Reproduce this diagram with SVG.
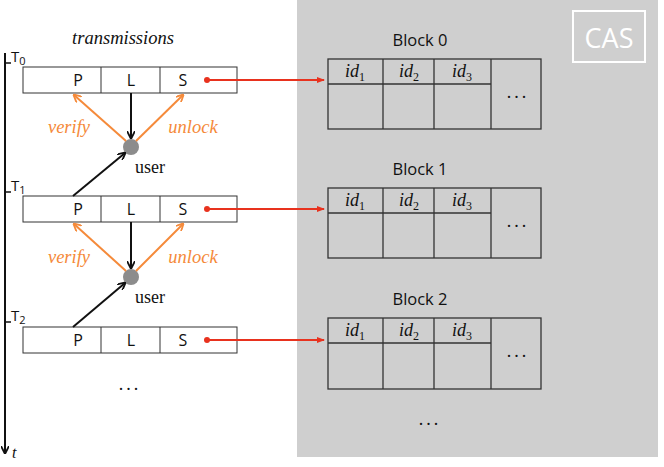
<svg xmlns="http://www.w3.org/2000/svg" width="664" height="467" viewBox="0 0 664 467">
<style>
.cell{fill:#fff;stroke:#333;stroke-width:1}
.bcell{fill:none;stroke:#333;stroke-width:1.3}
.sans{font-family:'Open Sans','Liberation Sans',sans-serif;fill:#111}
.serif{font-family:'Liberation Serif','DejaVu Serif',serif;fill:#111}
.it{font-style:italic}
.or{fill:#F58A3A}
.blk{stroke:#111;stroke-width:2;fill:none}
.orl{stroke:#F58A3A;stroke-width:2;fill:none}
.red{stroke:#E8321E;stroke-width:1.8;fill:none}
.dots{font-family:'Liberation Serif',serif;font-size:18px;fill:#111;letter-spacing:3px}
.bl{font-size:16.5px}
</style>
<defs>
<marker id="ab" markerWidth="8" markerHeight="8" refX="7" refY="4" orient="auto" markerUnits="userSpaceOnUse"><path d="M0,0 L8,4 L0,8" fill="none" stroke="#111" stroke-width="1.8"/></marker>
<marker id="ao" markerWidth="8" markerHeight="8" refX="7" refY="4" orient="auto" markerUnits="userSpaceOnUse"><path d="M0,0 L8,4 L0,8" fill="none" stroke="#F58A3A" stroke-width="1.8"/></marker>
<marker id="ar" markerWidth="8" markerHeight="8" refX="7" refY="4" orient="auto" markerUnits="userSpaceOnUse"><path d="M0,1 L8,4 L0,7 Z" fill="#E8321E"/></marker>
</defs>
<rect x="0" y="0" width="664" height="467" fill="#fff"/>
<g id="cas-panel">
<rect x="297" y="0" width="361" height="457" fill="#cfcfcf"/>
<rect x="573" y="11" width="72" height="51" fill="none" stroke="#fff" stroke-width="2"/>
<text x="609" y="48" text-anchor="middle" font-family="'Open Sans','Liberation Sans',sans-serif" font-size="27" fill="#fff">CAS</text>
</g>
<g id="time-axis">
<line x1="5" y1="53" x2="5" y2="453" stroke="#111" stroke-width="2" marker-end="url(#ab)"/>
<line x1="5" y1="63" x2="11" y2="63" stroke="#111" stroke-width="1.5"/>
<line x1="5" y1="192" x2="11" y2="192" stroke="#111" stroke-width="1.5"/>
<line x1="5" y1="322" x2="11" y2="322" stroke="#111" stroke-width="1.5"/>
<text x="11" y="62" class="sans" font-size="15">T<tspan font-size="11" dy="3">0</tspan></text>
<text x="11" y="191" class="sans" font-size="15">T<tspan font-size="11" dy="3">1</tspan></text>
<text x="11" y="321" class="sans" font-size="15">T<tspan font-size="11" dy="3">2</tspan></text>
<text x="12" y="458" class="serif it" font-size="16">t</text>
</g>
<text x="123" y="44" text-anchor="middle" class="serif it" font-size="18.5">transmissions</text>
<g id="tx0">
<rect x="23" y="67" width="214" height="26" class="cell"/>
<line x1="101" y1="67" x2="101" y2="93" stroke="#333"/>
<line x1="160" y1="67" x2="160" y2="93" stroke="#333"/>
<text x="78" y="86" text-anchor="middle" class="sans" font-size="16">P</text>
<text x="131" y="86" text-anchor="middle" class="sans" font-size="16">L</text>
<text x="183" y="86" text-anchor="middle" class="sans" font-size="16">S</text>
</g>
<g id="tx1">
<rect x="23" y="196" width="214" height="26" class="cell"/>
<line x1="101" y1="196" x2="101" y2="222" stroke="#333"/>
<line x1="160" y1="196" x2="160" y2="222" stroke="#333"/>
<text x="78" y="215" text-anchor="middle" class="sans" font-size="16">P</text>
<text x="131" y="215" text-anchor="middle" class="sans" font-size="16">L</text>
<text x="183" y="215" text-anchor="middle" class="sans" font-size="16">S</text>
</g>
<g id="tx2">
<rect x="23" y="327" width="214" height="26" class="cell"/>
<line x1="101" y1="327" x2="101" y2="353" stroke="#333"/>
<line x1="160" y1="327" x2="160" y2="353" stroke="#333"/>
<text x="78" y="346" text-anchor="middle" class="sans" font-size="16">P</text>
<text x="131" y="346" text-anchor="middle" class="sans" font-size="16">L</text>
<text x="183" y="346" text-anchor="middle" class="sans" font-size="16">S</text>
</g>
<text x="130" y="390" text-anchor="middle" class="dots">...</text>
<g id="user0">
<circle cx="131" cy="147" r="8" fill="#8c8c8c"/>
<text x="150" y="173" text-anchor="middle" class="serif" font-size="18">user</text>
</g>
<g id="user1">
<circle cx="131" cy="277" r="8" fill="#8c8c8c"/>
<text x="150" y="303" text-anchor="middle" class="serif" font-size="18">user</text>
</g>
<g id="block0">
<text x="420" y="46" text-anchor="middle" class="sans bl">Block 0</text>
<rect x="328" y="59" width="213" height="70" class="bcell"/>
<line x1="328" y1="84" x2="491" y2="84" stroke="#333" stroke-width="1.3"/>
<line x1="383" y1="59" x2="383" y2="129" stroke="#333" stroke-width="1.3"/>
<line x1="434" y1="59" x2="434" y2="129" stroke="#333" stroke-width="1.3"/>
<line x1="491" y1="59" x2="491" y2="129" stroke="#333" stroke-width="1.3"/>
<text x="355" y="77" text-anchor="middle" class="serif it" font-size="18">id<tspan font-size="12" font-style="normal" dy="4">1</tspan></text>
<text x="409" y="77" text-anchor="middle" class="serif it" font-size="18">id<tspan font-size="12" font-style="normal" dy="4">2</tspan></text>
<text x="462" y="77" text-anchor="middle" class="serif it" font-size="18">id<tspan font-size="12" font-style="normal" dy="4">3</tspan></text>
<text x="518" y="98" text-anchor="middle" class="dots">...</text>
</g>
<g id="block1">
<text x="420" y="175" text-anchor="middle" class="sans bl">Block 1</text>
<rect x="328" y="188" width="213" height="70" class="bcell"/>
<line x1="328" y1="213" x2="491" y2="213" stroke="#333" stroke-width="1.3"/>
<line x1="383" y1="188" x2="383" y2="258" stroke="#333" stroke-width="1.3"/>
<line x1="434" y1="188" x2="434" y2="258" stroke="#333" stroke-width="1.3"/>
<line x1="491" y1="188" x2="491" y2="258" stroke="#333" stroke-width="1.3"/>
<text x="355" y="206" text-anchor="middle" class="serif it" font-size="18">id<tspan font-size="12" font-style="normal" dy="4">1</tspan></text>
<text x="409" y="206" text-anchor="middle" class="serif it" font-size="18">id<tspan font-size="12" font-style="normal" dy="4">2</tspan></text>
<text x="462" y="206" text-anchor="middle" class="serif it" font-size="18">id<tspan font-size="12" font-style="normal" dy="4">3</tspan></text>
<text x="518" y="227" text-anchor="middle" class="dots">...</text>
</g>
<g id="block2">
<text x="420" y="305" text-anchor="middle" class="sans bl">Block 2</text>
<rect x="328" y="318" width="213" height="71" class="bcell"/>
<line x1="328" y1="343" x2="491" y2="343" stroke="#333" stroke-width="1.3"/>
<line x1="383" y1="318" x2="383" y2="389" stroke="#333" stroke-width="1.3"/>
<line x1="434" y1="318" x2="434" y2="389" stroke="#333" stroke-width="1.3"/>
<line x1="491" y1="318" x2="491" y2="389" stroke="#333" stroke-width="1.3"/>
<text x="355" y="336" text-anchor="middle" class="serif it" font-size="18">id<tspan font-size="12" font-style="normal" dy="4">1</tspan></text>
<text x="409" y="336" text-anchor="middle" class="serif it" font-size="18">id<tspan font-size="12" font-style="normal" dy="4">2</tspan></text>
<text x="462" y="336" text-anchor="middle" class="serif it" font-size="18">id<tspan font-size="12" font-style="normal" dy="4">3</tspan></text>
<text x="518" y="357" text-anchor="middle" class="dots">...</text>
</g>
<text x="430" y="425" text-anchor="middle" class="dots">...</text>
<g id="connectors">
<line x1="131" y1="93" x2="131" y2="138" class="blk" marker-end="url(#ab)"/>
<line x1="126" y1="141" x2="74" y2="95" class="orl" marker-end="url(#ao)"/>
<line x1="136" y1="141" x2="183" y2="95" class="orl" marker-end="url(#ao)"/>
<line x1="73" y1="196" x2="125" y2="153" class="blk" marker-end="url(#ab)"/>
<line x1="131" y1="222" x2="131" y2="268" class="blk" marker-end="url(#ab)"/>
<line x1="126" y1="271" x2="74" y2="224" class="orl" marker-end="url(#ao)"/>
<line x1="136" y1="271" x2="183" y2="224" class="orl" marker-end="url(#ao)"/>
<line x1="73" y1="327" x2="125" y2="283" class="blk" marker-end="url(#ab)"/>
<text x="69" y="133" text-anchor="middle" class="serif it or" font-size="18.5">verify</text>
<text x="193" y="133" text-anchor="middle" class="serif it or" font-size="18.5">unlock</text>
<text x="69" y="263" text-anchor="middle" class="serif it or" font-size="18.5">verify</text>
<text x="193" y="263" text-anchor="middle" class="serif it or" font-size="18.5">unlock</text>
<circle cx="207" cy="80" r="3" fill="#E8321E"/>
<line x1="207" y1="80" x2="324" y2="80" class="red" marker-end="url(#ar)"/>
<circle cx="207" cy="209" r="3" fill="#E8321E"/>
<line x1="207" y1="209" x2="324" y2="209" class="red" marker-end="url(#ar)"/>
<circle cx="207" cy="340" r="3" fill="#E8321E"/>
<line x1="207" y1="340" x2="324" y2="340" class="red" marker-end="url(#ar)"/>
</g>
</svg>
